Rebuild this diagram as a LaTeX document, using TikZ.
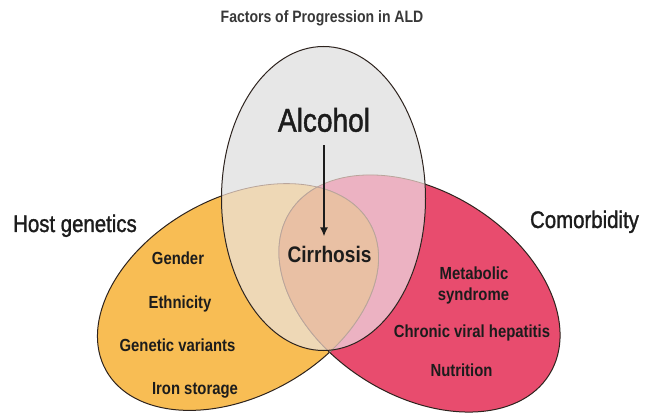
\documentclass[tikz,border=0pt]{standalone}
\usepackage{fontspec}
\newfontfamily\diagfont[FakeStretch=0.85]{Liberation Sans}
\newfontfamily\diagheavy[FakeStretch=0.85, FakeBold=1.3]{Liberation Sans}
\usetikzlibrary{arrows.meta}

\definecolor{alcoholgrey}{RGB}{231,231,231}
\definecolor{hostorange}{RGB}{248,189,84}
\definecolor{comorbpink}{RGB}{232,76,110}
\definecolor{hostalc}{RGB}{238,216,182}
\definecolor{comorbalc}{RGB}{236,178,194}
\definecolor{cirrhosispeach}{RGB}{233,192,164}
\definecolor{edgeink}{RGB}{45,35,30}
\definecolor{faintedge}{RGB}{185,165,155}
\definecolor{inkgrey}{RGB}{28,28,28}

\begin{document}
\begin{tikzpicture}[x=1pt, y=1pt,
    outline/.style={draw=edgeink, line width=1pt},
    faint/.style={draw=faintedge, line width=0.8pt},
    hostrot/.style={rotate around={29:(238,116)}},
    comorbrot/.style={rotate around={-32:(419.5,119.5)}},
    title/.style={font=\diagfont\bfseries\fontsize{16.5}{20}\selectfont,
                  text=black!78, inner sep=0pt, anchor=base},
    biglabel/.style={font=\diagheavy\fontsize{24}{28}\selectfont,
                     text=inkgrey, inner sep=0pt, anchor=base},
    itemlabel/.style={font=\diagfont\bfseries\fontsize{17.5}{21}\selectfont,
                      text=inkgrey, inner sep=0pt, anchor=base},
    arrowline/.style={-{Latex[length=9pt,width=8pt]}, line width=2.6pt, inkgrey}]

\useasboundingbox (0,0) rectangle (657,413);

% Ellipses
\fill[hostorange, hostrot] (238,116) ellipse [x radius=151, y radius=99];
\fill[comorbpink, comorbrot] (419.5,119.5) ellipse [x radius=153, y radius=102];
\draw[outline, hostrot] (238,116) ellipse [x radius=151, y radius=99];
\draw[outline, comorbrot] (419.5,119.5) ellipse [x radius=153, y radius=102];
\fill[alcoholgrey] (323.5,214.5) ellipse [x radius=102, y radius=152];

% Overlaps
\begin{scope}
  \clip (323.5,214.5) ellipse [x radius=102, y radius=152];
  \fill[hostalc, hostrot] (238,116) ellipse [x radius=151, y radius=99];
  \fill[comorbalc, comorbrot] (419.5,119.5) ellipse [x radius=153, y radius=102];
  \draw[faint, hostrot] (238,116) ellipse [x radius=151, y radius=99];
  \draw[faint, comorbrot] (419.5,119.5) ellipse [x radius=153, y radius=102];
  \clip[hostrot] (238,116) ellipse [x radius=151, y radius=99];
  \fill[cirrhosispeach, comorbrot] (419.5,119.5) ellipse [x radius=153, y radius=102];
  \draw[faint, comorbrot] (419.5,119.5) ellipse [x radius=153, y radius=102];
\end{scope}
\begin{scope}
  \clip[comorbrot] (419.5,119.5) ellipse [x radius=153, y radius=102];
  \draw[faint, hostrot] (238,116) ellipse [x radius=151, y radius=99];
\end{scope}
\draw[outline] (323.5,214.5) ellipse [x radius=102, y radius=152];

% Labels
\node[title] (title) at (322,390) {Factors of Progression in ALD};
\node[biglabel, font=\diagheavy\fontsize{33}{38}\selectfont] (alcohol) at (324,281.3) {Alcohol};
\node[itemlabel, font=\diagfont\bfseries\fontsize{22.5}{26}\selectfont] (cirrhosis) at (329.5,150) {Cirrhosis};
\node[biglabel] (host) at (75,181) {Host genetics};
\node[biglabel] (comorb) at (584.5,185) {Comorbidity};

\node[itemlabel] (gender) at (178,148) {Gender};
\node[itemlabel] (ethnicity) at (180,104) {Ethnicity};
\node[itemlabel] (variants) at (177.5,61) {Genetic variants};
\node[itemlabel] (iron) at (195,18) {Iron storage};

\node[itemlabel] (metabolic) at (474,133) {Metabolic};
\node[itemlabel] (syndrome) at (473.5,112) {syndrome};
\node[itemlabel] (hepatitis) at (472,75) {Chronic viral hepatitis};
\node[itemlabel] (nutrition) at (461.5,36) {Nutrition};

% Arrow
\draw[arrowline, shorten <=13pt, shorten >=10pt] (alcohol.south) -- (alcohol.south |- cirrhosis.north);
\end{tikzpicture}
\end{document}
